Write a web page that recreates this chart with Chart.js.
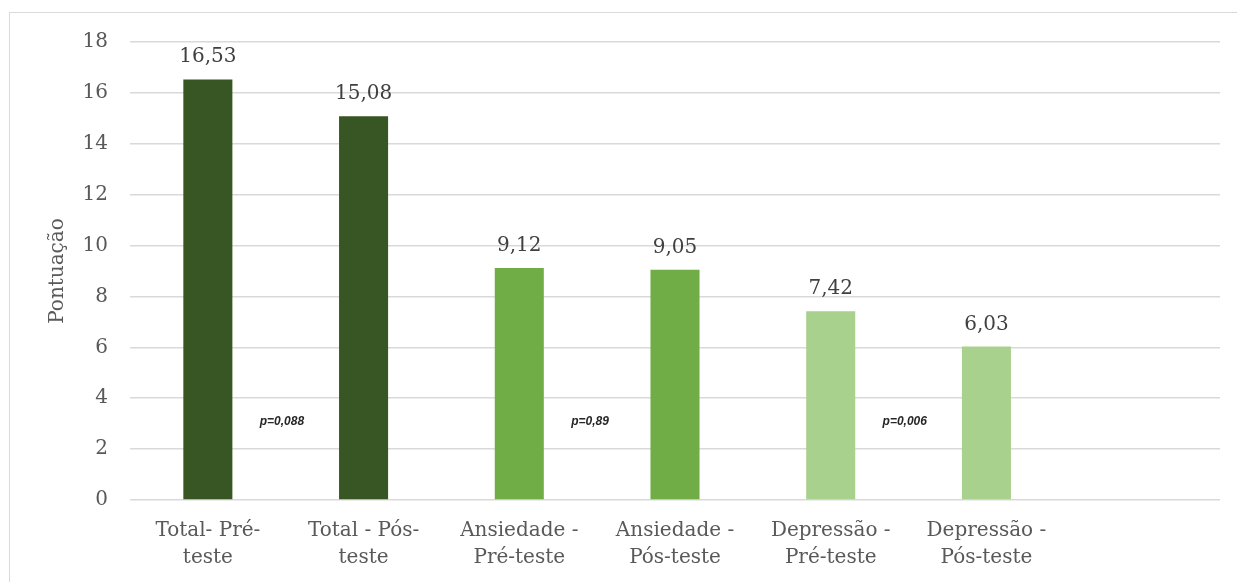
<!DOCTYPE html>
<html>
<head>
<meta charset="utf-8">
<script src="https://cdn.jsdelivr.net/npm/chart.js@4"></script>
<style>
  html, body { margin: 0; padding: 0; background: #fff; overflow: hidden; }
  #frame {
    position: absolute; left: 9px; top: 12px;
    width: 1400px; height: 800px;
    border: 1.5px solid #d9d9d9;
  }
  #graphCanvas { position: absolute; left: 0; top: 0; }
</style>
</head>
<body>
<div id="frame"></div>
<canvas id="graphCanvas" width="1237" height="582"></canvas>
<script>
// categories (last slot is empty in the original)
const categories = [
    ['Total- Pré-', 'teste'],
    ['Total - Pós-', 'teste'],
    ['Ansiedade -', 'Pré-teste'],
    ['Ansiedade -', 'Pós-teste'],
    ['Depressão -', 'Pré-teste'],
    ['Depressão -', 'Pós-teste'],
    ''
];
const scores = [16.53, 15.08, 9.12, 9.05, 7.42, 6.03, null];
const barColors = ['#375623', '#375623', '#70AD47', '#70AD47', '#A9D18E', '#A9D18E', '#A9D18E'];

// p-values shown between each pre/post pair
const pValues = ['p=0,088', 'p=0,89', 'p=0,006'];
const pPairs = [[0, 1], [2, 3], [4, 5]];
const pLevel = 3.07;

const yTicks = { min: 0, max: 18, step: 2 };

const serif = "'DejaVu Serif', serif";

// value labels on top of bars + p-values text
const labelPlugin = {
    id: 'labelPlugin',
    afterDatasetsDraw(chart) {
        const ctx = chart.ctx;
        const meta = chart.getDatasetMeta(0);
        ctx.save();
        ctx.font = '20px ' + serif;
        ctx.fillStyle = '#404040';
        ctx.textAlign = 'center';
        ctx.textBaseline = 'alphabetic';
        meta.data.forEach((bar, i) => {
            const v = scores[i];
            if (v === null) return;
            ctx.fillText(v.toFixed(2).replace('.', ','), bar.x, bar.y - 17);
        });

        const xs = chart.scales.x;
        const ys = chart.scales.y;
        ctx.font = "italic bold 12px 'Liberation Sans', sans-serif";
        ctx.fillStyle = '#262626';
        ctx.textAlign = 'left';
        ctx.textBaseline = 'middle';
        pValues.forEach((txt, i) => {
            const mid = (xs.getPixelForValue(pPairs[i][0]) + xs.getPixelForValue(pPairs[i][1])) / 2;
            ctx.fillText(txt, mid - 26, ys.getPixelForValue(pLevel));
        });
        ctx.restore();
    }
};

let chart;

function initializeChart() {
    const ctx = document.getElementById('graphCanvas').getContext('2d');
    chart = new Chart(ctx, {
        type: 'bar',
        data: {
            labels: categories,
            datasets: [{
                data: scores,
                backgroundColor: barColors,
                borderWidth: 0,
                barPercentage: 0.315,
                categoryPercentage: 1
            }]
        },
        options: {
            responsive: false,
            animation: false,
            layout: { padding: { left: 0, right: 17, top: 42, bottom: 0 } },
            plugins: {
                legend: { display: false },
                tooltip: { enabled: false }
            },
            scales: {
                x: {
                    grid: { display: false, drawTicks: false, tickLength: 0 },
                    border: { display: false },
                    ticks: {
                        color: '#595959',
                        font: { family: serif, size: 20, lineHeight: 1.35 },
                        padding: 17,
                        maxRotation: 0,
                        autoSkip: false
                    },
                    afterFit(scale) { scale.height = 82; }
                },
                y: {
                    min: yTicks.min,
                    max: yTicks.max,
                    grid: { color: '#d9d9d9', lineWidth: 1.5, drawTicks: false, tickLength: 0 },
                    border: { display: false },
                    ticks: {
                        stepSize: yTicks.step,
                        color: '#595959',
                        font: { family: serif, size: 20 },
                        padding: 22
                    },
                    title: {
                        display: true,
                        text: 'Pontuação',
                        color: '#595959',
                        font: { family: serif, size: 20, lineHeight: 1.2 },
                        padding: { top: 46, bottom: 0 }
                    },
                    afterFit(scale) { scale.width = 130; }
                }
            }
        },
        plugins: [labelPlugin]
    });
}

initializeChart();
</script>
</body>
</html>
